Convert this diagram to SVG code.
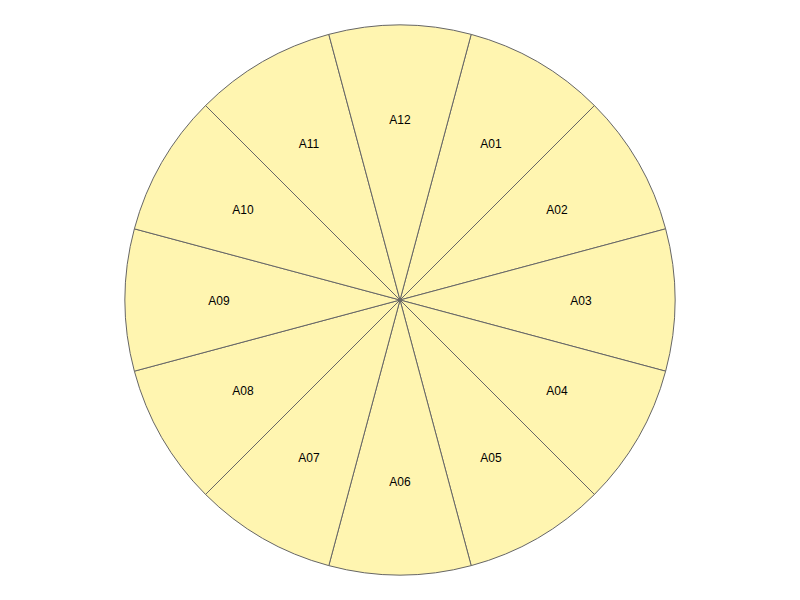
<svg xmlns="http://www.w3.org/2000/svg" width="800" height="600" viewBox="0 0 800 600">
<style>
.s{fill:#fff5b0;stroke:#666;stroke-width:1}
.t{font-family:"Liberation Sans",Arial,sans-serif;font-size:12px;fill:#000;text-anchor:middle;dominant-baseline:central}
</style>
<rect width="800" height="600" fill="#fff"/>
<g id="A01"><path class="s" d="M400 300L471.18 34.37A275 275 0 0 1 594.45 105.55Z"/><text class="t" x="491" y="144">A01</text></g>
<g id="A02"><path class="s" d="M400 300L594.45 105.55A275 275 0 0 1 665.63 228.82Z"/><text class="t" x="557" y="210">A02</text></g>
<g id="A03"><path class="s" d="M400 300L665.63 228.82A275 275 0 0 1 665.63 371.18Z"/><text class="t" x="581" y="301">A03</text></g>
<g id="A04"><path class="s" d="M400 300L665.63 371.18A275 275 0 0 1 594.45 494.45Z"/><text class="t" x="557" y="391">A04</text></g>
<g id="A05"><path class="s" d="M400 300L594.45 494.45A275 275 0 0 1 471.18 565.63Z"/><text class="t" x="491" y="458">A05</text></g>
<g id="A06"><path class="s" d="M400 300L471.18 565.63A275 275 0 0 1 328.82 565.63Z"/><text class="t" x="400" y="482">A06</text></g>
<g id="A07"><path class="s" d="M400 300L328.82 565.63A275 275 0 0 1 205.55 494.45Z"/><text class="t" x="309" y="458">A07</text></g>
<g id="A08"><path class="s" d="M400 300L205.55 494.45A275 275 0 0 1 134.37 371.18Z"/><text class="t" x="243" y="391">A08</text></g>
<g id="A09"><path class="s" d="M400 300L134.37 371.18A275 275 0 0 1 134.37 228.82Z"/><text class="t" x="219" y="301">A09</text></g>
<g id="A10"><path class="s" d="M400 300L134.37 228.82A275 275 0 0 1 205.55 105.55Z"/><text class="t" x="243" y="210">A10</text></g>
<g id="A11"><path class="s" d="M400 300L205.55 105.55A275 275 0 0 1 328.82 34.37Z"/><text class="t" x="309" y="144">A11</text></g>
<g id="A12"><path class="s" d="M400 300L328.82 34.37A275 275 0 0 1 471.18 34.37Z"/><text class="t" x="400" y="120">A12</text></g>
<g id="connectors"/>
</svg>
